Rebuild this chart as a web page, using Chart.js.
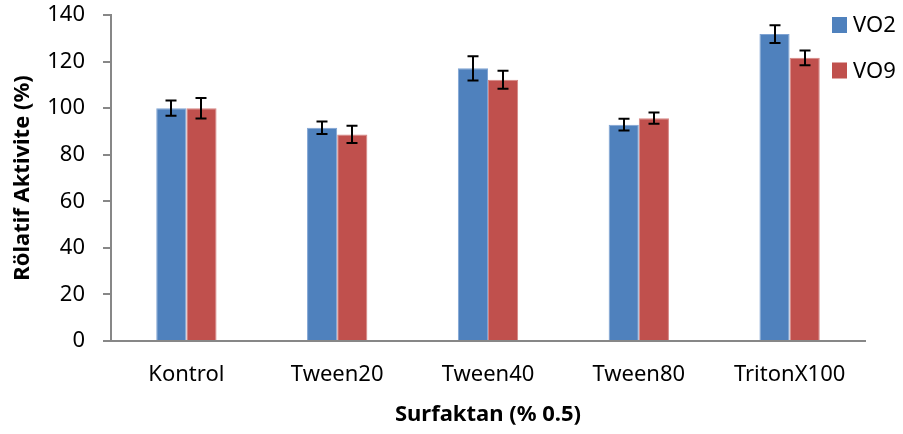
<!DOCTYPE html>
<html>
<head>
<meta charset="utf-8">
<script src="https://cdn.jsdelivr.net/npm/chart.js@4/dist/chart.umd.min.js"></script>
<style>
  html, body { margin: 0; padding: 0; background: #fff; }
  #wrap { width: 903px; height: 434px; }
</style>
</head>
<body>
<div id="wrap"><canvas id="c" width="903" height="434"></canvas></div>
<script>
const categories = ['Kontrol', 'Tween20', 'Tween40', 'Tween80', 'TritonX100'];
const seriesNames = ['VO2', 'VO9'];
const vo2Values = [100, 91.6, 117.1, 92.9, 131.8];
const vo9Values = [100, 88.7, 112.2, 95.7, 121.6];
const vo2Errors = [3.3, 2.7, 5.2, 2.5, 3.8];
const vo9Errors = [4.4, 3.7, 3.9, 2.4, 3.2];
const yTicks = [0, 20, 40, 60, 80, 100, 120, 140];

const FONT = '"Noto Sans", "Open Sans", sans-serif';
const AXIS_GREY = '#878787';

// Draws symmetric error bars on each bar from the dataset's errors list
const errorBars = {
  id: 'errorBars',
  afterDatasetsDraw(chart) {
    const ctx = chart.ctx;
    const y = chart.scales.y;
    ctx.save();
    ctx.strokeStyle = '#000';
    ctx.lineWidth = 2;
    chart.data.datasets.forEach((ds, di) => {
      const meta = chart.getDatasetMeta(di);
      meta.data.forEach((bar, i) => {
        const v = ds.data[i], e = ds.errors[i];
        const x = Math.round(bar.x);
        const yTop = y.getPixelForValue(v + e);
        const yBot = y.getPixelForValue(v - e);
        ctx.beginPath();
        ctx.moveTo(x, yTop); ctx.lineTo(x, yBot);
        ctx.moveTo(x - 5.5, yTop); ctx.lineTo(x + 5.5, yTop);
        ctx.moveTo(x - 5.5, yBot); ctx.lineTo(x + 5.5, yBot);
        ctx.stroke();
      });
    });
    ctx.restore();
  }
};

// Legend drawn in the top-right corner, over the plot area
const cornerLegend = {
  id: 'cornerLegend',
  afterDraw(chart) {
    const ctx = chart.ctx;
    ctx.save();
    ctx.font = '22px ' + FONT;
    ctx.textBaseline = 'middle';
    ctx.textAlign = 'left';
    chart.data.datasets.forEach((ds, i) => {
      const cy = 25 + i * 45.5;
      ctx.fillStyle = ds.backgroundColor;
      ctx.fillRect(832, cy - 8, 15, 16);
      ctx.fillStyle = '#000';
      ctx.fillText(ds.label, 853, cy + 1);
    });
    ctx.restore();
  }
};

new Chart(document.getElementById('c'), {
  type: 'bar',
  data: {
    labels: categories,
    datasets: [
      { label: seriesNames[0], data: vo2Values, errors: vo2Errors,
        backgroundColor: '#4F81BD', borderColor: '#7FA3D3', borderWidth: { left: 1, right: 1, top: 1 } },
      { label: seriesNames[1], data: vo9Values, errors: vo9Errors,
        backgroundColor: '#C0504D', borderColor: '#D68583', borderWidth: { left: 1, right: 1, top: 1 } }
    ]
  },
  options: {
    responsive: false,
    animation: false,
    devicePixelRatio: 1,
    layout: { padding: { left: 0, right: 38, top: 15, bottom: 6 } },
    plugins: { legend: { display: false }, tooltip: { enabled: false } },
    datasets: { bar: { categoryPercentage: 0.4, barPercentage: 1.0 } },
    scales: {
      x: {
        grid: { display: false, drawTicks: false },
        border: { display: true, color: AXIS_GREY, width: 2 },
        ticks: { color: '#000', font: { family: FONT, size: 22 }, padding: 21, maxRotation: 0 },
        title: { display: true, text: 'Surfaktan (% 0.5)', color: '#000',
                 font: { family: FONT, size: 22, weight: 'bold' }, padding: { top: 0, bottom: 0 } },
        afterFit(s) { s.height = 87; s.paddingLeft = 0; s.paddingRight = 0; }
      },
      y: {
        min: 0, max: 140,
        afterBuildTicks(s) { s.ticks = yTicks.map(v => ({ value: v })); },
        grid: { display: true, drawOnChartArea: false, drawTicks: true, tickLength: 8, color: AXIS_GREY, lineWidth: 2 },
        border: { display: true, color: AXIS_GREY, width: 2 },
        ticks: { color: '#000', font: { family: FONT, size: 22 }, padding: 18 },
        title: { display: true, text: 'Rölatif Aktivite (%)', color: '#000',
                 font: { family: FONT, size: 22, weight: 'bold' }, padding: { top: 10, bottom: 0 } },
        afterFit(s) { s.width = 111; s.paddingTop = 0; s.paddingBottom = 0; }
      }
    }
  },
  plugins: [errorBars, cornerLegend]
});
</script>
</body>
</html>
